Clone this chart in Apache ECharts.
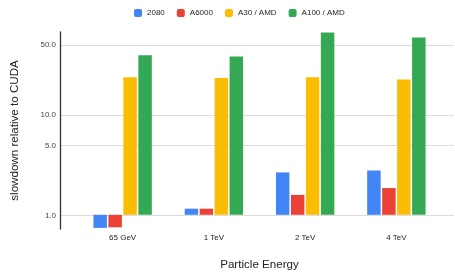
<!DOCTYPE html>
<html>
<head>
    <meta charset="utf-8" />
    <title></title>
    <style>
        html, body { margin: 0; padding: 0; background: #fff; }
        #chart { width: 455px; height: 276px; }
    </style>
</head>
<body>
    <div id="chart"></div>
    <script src="https://cdn.jsdelivr.net/npm/echarts@6/dist/echarts.min.js"></script>
    <script>
        // values (log scale)
        var categories = ['65 GeV', '1 TeV', '2 TeV', '4 TeV'];
        var seriesNames = ['2080', 'A6000', 'A30 / AMD', 'A100 / AMD'];
        var gpu2080 = [0.74, 1.15, 2.65, 2.77];
        var gpuA6000 = [0.75, 1.15, 1.58, 1.85];
        var gpuA30 = [23.6, 23.2, 23.6, 22.5];
        var gpuA100 = [39.3, 38.1, 66.3, 59.2];
        var yTicks = [1, 5, 10, 50];

        var colors = ['#4285F4', '#EA4335', '#FBBC04', '#34A853'];
        var font = 'Arial, "Liberation Sans", sans-serif';
        var yMin = 0.738, yMax = 67;

        function bar(name, data) {
            return {
                name: name,
                type: 'bar',
                xAxisIndex: 0,
                yAxisIndex: 0,
                barGap: '11%',
                barCategoryGap: '36%',
                data: data
            };
        }

        var option = {
            animation: false,
            color: colors,
            textStyle: { fontFamily: font },
            legend: {
                left: 129,
                top: 4,
                itemWidth: 8,
                itemHeight: 8,
                itemGap: 12,
                icon: 'roundRect',
                textStyle: { fontSize: 8, color: '#222', fontFamily: font },
                data: seriesNames
            },
            grid: [
                // bars
                { left: 77, right: 13, top: 32, bottom: 47 },
                // axis line, labels and gridlines across full width
                { left: 60, right: 1, top: 32, bottom: 47 }
            ],
            xAxis: [{
                type: 'category',
                gridIndex: 0,
                data: categories,
                axisLine: { show: false },
                axisTick: { show: false },
                axisLabel: { fontSize: 8, color: '#222', margin: 6, fontFamily: font },
                name: 'Particle Energy',
                nameLocation: 'middle',
                nameGap: 31,
                nameTextStyle: { fontSize: 11.6, color: '#222', fontFamily: font }
            }, {
                type: 'value',
                gridIndex: 1,
                show: false,
                min: 0,
                max: 1
            }],
            yAxis: [{
                type: 'log',
                gridIndex: 0,
                min: yMin,
                max: yMax,
                show: false,
                splitLine: { show: false }
            }, {
                type: 'log',
                gridIndex: 1,
                min: yMin,
                max: yMax,
                axisLine: { show: true, lineStyle: { color: '#333', width: 1.3 } },
                axisTick: { show: false, customValues: yTicks },
                axisLabel: {
                    customValues: yTicks,
                    fontSize: 8,
                    color: '#444',
                    margin: 4,
                    fontFamily: font,
                    formatter: function (v) { return Number(v).toFixed(1); }
                },
                splitLine: { show: true, lineStyle: { color: '#dcdcdc', width: 1 } },
                name: 'slowdown relative to CUDA',
                nameLocation: 'middle',
                nameGap: 39,
                nameTextStyle: { fontSize: 11.6, color: '#222', fontFamily: font }
            }],
            series: [
                bar(seriesNames[0], gpu2080),
                bar(seriesNames[1], gpuA6000),
                bar(seriesNames[2], gpuA30),
                bar(seriesNames[3], gpuA100)
            ]
        };

        var chart = echarts.init(document.getElementById('chart'));
        chart.setOption(option);
    </script>
</body>
</html>
